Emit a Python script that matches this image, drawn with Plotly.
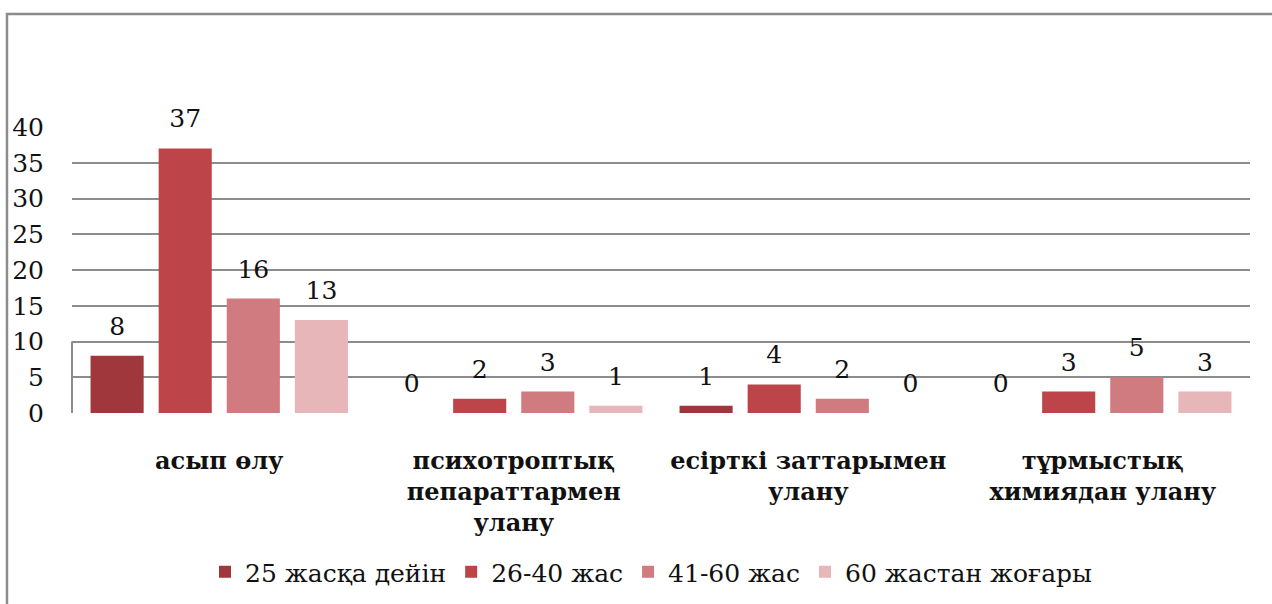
import plotly.graph_objects as go

categories = ["асып өлу",
              "психотроптық<br>пепараттармен<br>улану",
              "есірткі заттарымен<br>улану",
              "тұрмыстық<br>химиядан улану"]
series_names = ["25 жасқа дейін", "26-40 жас", "41-60 жас", "60 жастан жоғары"]
under_25 = [8, 0, 1, 0]
age_26_40 = [37, 2, 4, 3]
age_41_60 = [16, 3, 2, 5]
over_60 = [13, 1, 0, 3]
y_ticks = [0, 5, 10, 15, 20, 25, 30, 35, 40]

colors = ["#9f373c", "#bd4449", "#d07b7f", "#e6b6b9"]
font_family = "DejaVu Serif"

fig = go.Figure()
for i, (name, vals) in enumerate(zip(series_names, [under_25, age_26_40, age_41_60, over_60])):
    fig.add_trace(go.Bar(
        x=categories,
        y=vals,
        name=name,
        offsetgroup=str(i),
        marker=dict(color=colors[i], line=dict(width=0)),
    ))
    # value labels, grouped the same way as the bars
    fig.add_trace(go.Scatter(
        x=categories,
        y=vals,
        mode="markers+text",
        text=[str(v) for v in vals],
        textposition="top center",
        textfont=dict(family=font_family, size=25, color="#111111"),
        marker=dict(size=22, opacity=0),
        offsetgroup=str(i),
        showlegend=False,
        hoverinfo="skip",
        cliponaxis=False,
    ))

fig.update_layout(
    width=1272,
    height=604,
    barmode="group",
    scattermode="group",
    bargap=0.075,
    bargroupgap=0.22,
    scattergap=0.075,
    paper_bgcolor="white",
    plot_bgcolor="white",
    margin=dict(l=72, r=22, t=127, b=191, autoexpand=False),
    font=dict(family=font_family, color="#111111"),
    xaxis=dict(
        showgrid=False,
        showline=False,
        zeroline=False,
        ticks="outside",
        ticklen=26,
        tickcolor="rgba(0,0,0,0)",
        tickfont=dict(family=font_family, size=24, color="#111111", weight="bold"),
    ),
    yaxis=dict(
        range=[0, 40],
        tickvals=y_ticks,
        showgrid=True,
        gridcolor="#8c8c8c",
        gridwidth=2,
        zeroline=False,
        showline=False,
        ticks="outside",
        ticklen=22,
        tickcolor="rgba(0,0,0,0)",
        tickfont=dict(family=font_family, size=25, color="#111111"),
    ),
    legend=dict(
        orientation="h",
        x=0.4915,
        xanchor="center",
        y=-0.556,
        yanchor="middle",
        font=dict(family=font_family, size=25, color="#111111"),
        itemwidth=30,
        traceorder="normal",
    ),
    shapes=[
        # outer frame of the chart
        dict(type="rect", xref="paper", yref="paper",
             x0=-0.0552, x1=1.04, y0=-0.8, y1=1.395,
             line=dict(color="#8c8c8c", width=2.5), fillcolor="rgba(0,0,0,0)", layer="below"),
        # short axis piece at the bottom left
        dict(type="line", xref="paper", yref="y",
             x0=0, x1=0, y0=0, y1=10,
             line=dict(color="#8c8c8c", width=2)),
    ],
)

fig.write_html("out.html", config={"displayModeBar": False},
               post_script="document.body.style.margin='0';")
